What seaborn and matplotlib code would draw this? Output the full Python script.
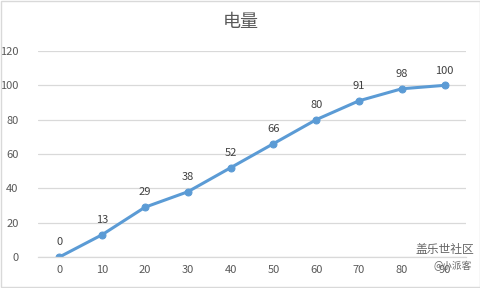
import matplotlib
matplotlib.use("Agg")
import matplotlib.pyplot as plt
import seaborn as sns
import pandas as pd

categories = ["0", "10", "20", "30", "40", "50", "60", "70", "80", "90"]
values = [0, 13, 29, 38, 52, 66, 80, 91, 98, 100]
y_ticks = [0, 20, 40, 60, 80, 100, 120]
title = "电量"

sns.set_theme(style="white")
plt.rcParams['font.family'] = ['Noto Sans CJK SC', 'DejaVu Sans']

df = pd.DataFrame({"cat": categories, "val": values})

fig = plt.figure(figsize=(4.81, 2.88), dpi=100)
ax = fig.add_axes([38/481, 1-257/288, 428/481, 206/288])

color = "#5B9BD5"
sns.lineplot(data=df, x="cat", y="val", ax=ax, color=color, linewidth=2.2,
             marker="o", markersize=5, markeredgecolor=color, sort=False)

ax.set_xlim(-0.5, len(categories) - 0.5)
ax.set_ylim(0, 120)
ax.set_yticks(y_ticks)
ax.set_yticklabels([str(t) for t in y_ticks])
ax.yaxis.grid(True, color="#D9D9D9", linewidth=0.9)
ax.set_axisbelow(True)
for s in ["top", "right", "left"]:
    ax.spines[s].set_visible(False)
ax.spines["bottom"].set_color("#D9D9D9")
ax.spines["bottom"].set_linewidth(0.9)
ax.tick_params(axis="both", length=0, labelsize=8, labelcolor="#595959")
ax.tick_params(axis="x", pad=6)
ax.tick_params(axis="y", pad=14)
ax.set_xlabel("")
ax.set_ylabel("")

for i, v in enumerate(values):
    ax.annotate(str(v), (i, v), xytext=(0, 7), textcoords="offset points",
                ha="center", va="bottom", fontsize=8, color="#404040")

fig.text(0.5, 1-22/288, title, ha="center", va="center", fontsize=13, color="#595959")

# watermark
fig.text(474/481, 1-250/288, "盖乐世社区", ha="right", va="center", fontsize=8.5, color="#666666")
fig.text(472/481, 1-266/288, "@小派客", ha="right", va="center", fontsize=7, color="#666666")

# border
fig.patches.append(plt.Rectangle((0.002, 0.003), 0.996, 0.994, transform=fig.transFigure,
                                 fill=False, edgecolor="#D9D9D9", linewidth=1))

fig.savefig("out.png", dpi=100)
